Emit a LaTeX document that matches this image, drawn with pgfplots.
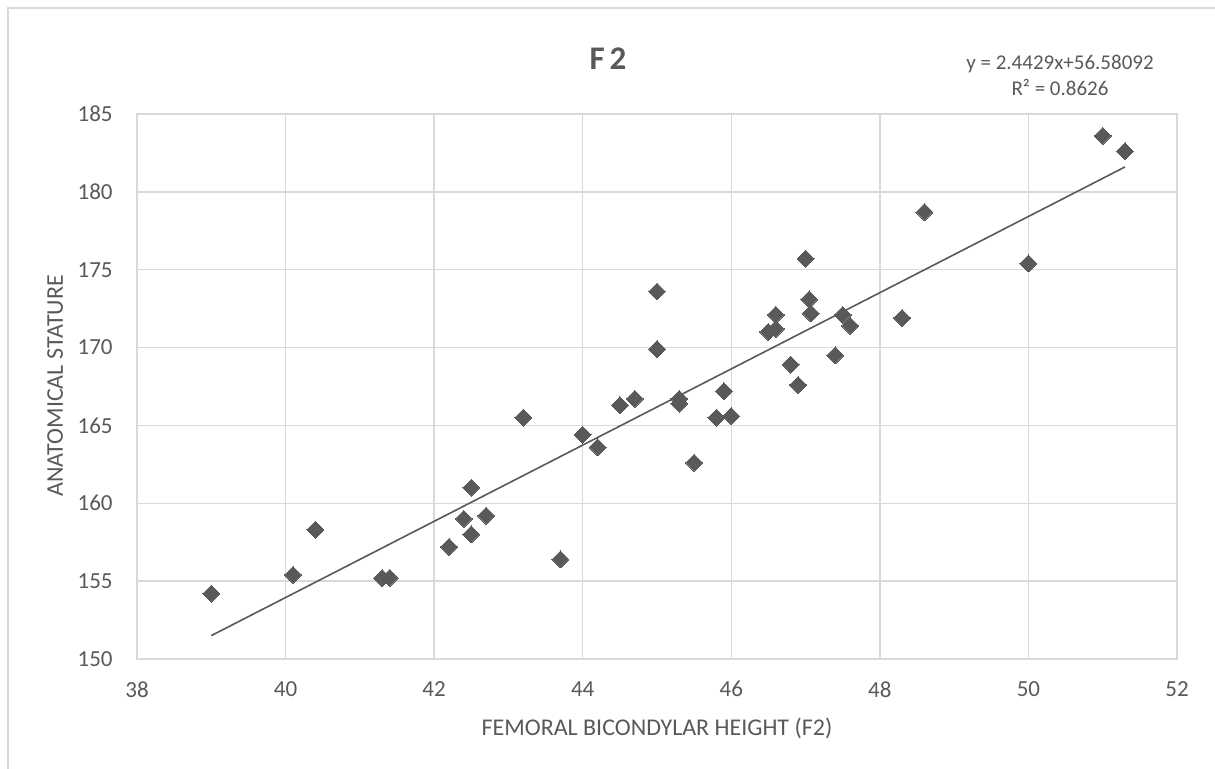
\documentclass[border=0pt]{standalone}
\usepackage{pgfplots}
\pgfplotsset{compat=1.18}
\usepackage{fontspec}
\setmainfont{Carlito}
\definecolor{txt}{HTML}{595959}
\definecolor{gridc}{HTML}{D9D9D9}
\definecolor{mk}{HTML}{595959}
\begin{document}
\begin{tikzpicture}
\path[use as bounding box] (0,0) rectangle (607.5pt,384.5pt);
\draw[gridc, line width=0.75pt] (4pt,0) -- (4pt,380.5pt) -- (607.5pt,380.5pt);
\begin{axis}[
  at={(68.5pt,55pt)}, anchor=south west,
  scale only axis, width=520pt, height=272.5pt,
  xmin=38, xmax=52, ymin=150, ymax=185,
  xtick={38,40,...,52}, ytick={150,155,...,185},
  grid=major, major grid style={gridc, line width=0.75pt},
  axis line style={gridc, line width=0.75pt},
  major tick length=0pt,
  /pgf/number format/assume math mode=true,
  ticklabel style={font=\fontsize{11.5}{13}\selectfont, text=txt},
  xticklabel style={anchor=north, inner sep=0pt, yshift=-11pt},
  yticklabel style={anchor=east, inner sep=0pt, xshift=-12pt},
  xlabel={FEMORAL BICONDYLAR HEIGHT (F2)},
  ylabel={ANATOMICAL STATURE},
  label style={font=\fontsize{12}{14}\selectfont, text=txt},
  xlabel style={at={(axis description cs:0.5,-0.1266)}, anchor=center},
  ylabel style={at={(axis description cs:-0.0788,0.501)}, anchor=center},
]
\addplot[only marks, mark=square*, mark size=3pt, mark options={rotate=45, fill=mk, draw=mk, line width=0pt}] coordinates {
(39.0,154.2) (40.1,155.4) (40.4,158.3) (41.3,155.2) (41.4,155.2)
(42.2,157.2) (42.4,159.0) (42.5,161.0) (42.5,158.0) (42.7,159.2)
(43.2,165.5) (43.7,156.4) (44.0,164.4) (44.2,163.6) (44.5,166.3)
(44.7,166.7) (45.0,173.6) (45.0,169.9) (45.3,166.7) (45.3,166.4)
(45.5,162.6) (45.8,165.5) (45.9,167.2) (46.0,165.6) (46.5,171.0)
(46.6,171.2) (46.6,172.1) (46.8,168.9) (46.9,167.6) (47.0,175.7)
(47.05,173.1) (47.07,172.2) (47.4,169.5) (47.5,172.1) (47.6,171.4)
(48.3,171.9) (48.6,178.7) (50.0,175.4) (51.0,183.6) (51.3,182.6)
};
\addplot[mk, line width=0.8pt, no marks] coordinates {(39.0,151.5) (51.3,181.6)};
\end{axis}
\node[font=\bfseries\fontsize{16.5}{18}\selectfont, text=txt] at (304pt,355pt) {F\hspace{2.5pt}2};
\node[align=center, font=\fontsize{10.5}{13}\selectfont, text=txt] at (530pt,347pt) {y = 2.4429x+56.58092\\R² = 0.8626};
\end{tikzpicture}
\end{document}
